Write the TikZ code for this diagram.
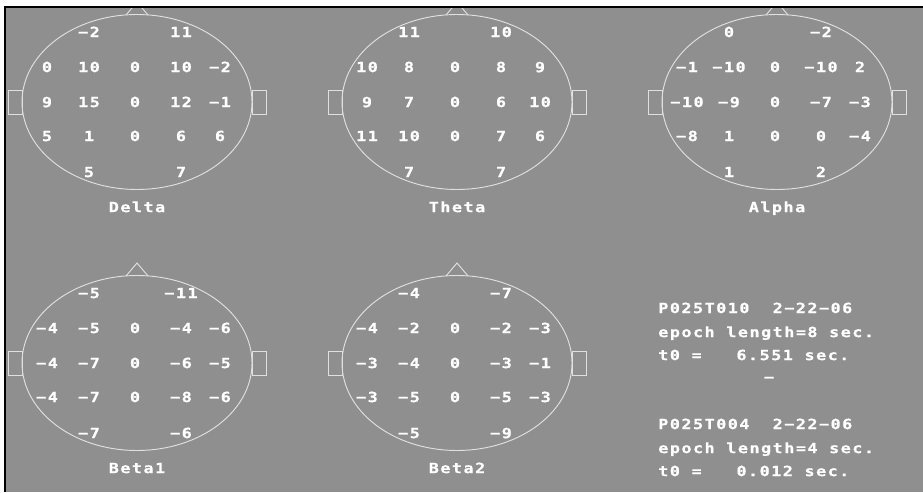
\documentclass[tikz,border=0pt]{standalone}
\usepackage{fontspec}
\newfontfamily\pixfont[FakeStretch=1.2,LetterSpace=10.5,FakeBold=0.6]{DejaVu Sans Mono Bold}
\definecolor{eegbg}{RGB}{143,143,143}
\definecolor{eegline}{RGB}{224,224,224}
\newcommand\cell{\hspace*{8.7pt}}% one blank character cell
\tikzset{
  val/.style={text=white,font=\pixfont\fontsize{10.5}{12}\selectfont,
    inner sep=0pt,text height=7.6pt,text depth=0pt},
  info/.style={val,anchor=west},
  headline/.style={draw=eegline,line width=0.7pt},
}
% name, centre x, centre y, band, the 19 values
\newcommand\headmap[5]{%
  \begin{scope}[shift={(#2,#3)}]
    \draw[headline] (0,0) ellipse (115 and 87.5);
    \draw[headline] (-11,-87) -- (0,-100) -- (11,-87);
    \draw[headline] (-115,-12) rectangle (-129,12);
    \draw[headline] (115,-12) rectangle (129,12);
    \foreach \v [count=\i] in {#5}{
      \pgfmathsetmacro\dx{{-48,44,-90,-48,-2,44,83,-90,-48,-2,44,83,-90,-48,-2,44,83,-48,44}[\i-1]}
      \pgfmathsetmacro\dy{{-70,-70,-35,-35,-35,-35,-35,0,0,0,0,0,34,34,34,34,34,70,70}[\i-1]}
      \node[val] (#1-\i) at (\dx,\dy) {\v};
    }
    \node[val] (#1-name) at (0,105) {#4};
  \end{scope}}

\begin{document}
\begin{tikzpicture}[x=0.75pt,y=-0.75pt]
  \useasboundingbox (0,0) rectangle (923,492);
  \fill[eegbg] (5,7) rectangle (923,492);

  \headmap{delta}{137}{102}{Delta}{−2,11,0,10,0,10,−2,9,15,0,12,−1,5,1,0,6,6,5,7}
  \headmap{theta}{457}{102}{Theta}{11,10,10,8,0,8,9,9,7,0,6,10,11,10,0,7,6,7,7}
  \headmap{alpha}{777}{102}{Alpha}{0,−2,−1,−10,0,−10,2,−10,−9,0,−7,−3,−8,1,0,0,−4,1,2}
  \headmap{betaone}{137}{363}{Beta1}{−5,−11,−4,−5,0,−4,−6,−4,−7,0,−6,−5,−4,−7,0,−8,−6,−7,−6}
  \headmap{betatwo}{457}{363}{Beta2}{−4,−7,−4,−2,0,−2,−3,−3,−4,0,−3,−1,−3,−5,0,−5,−3,−5,−9}

  % epoch info
  \node[info] (runa) at (658,308) {P025T010\cell\cell 2−22−06};
  \node[info] (lena) at (658,332) {epoch\cell length=8\cell sec.};
  \node[info] (ta) at (658,355) {t0\cell=\cell\cell\cell 6.551\cell sec.};
  \node[val] (mark) at (769,377) {−};
  \node[info] (runb) at (658,424) {P025T004\cell\cell 2−22−06};
  \node[info] (lenb) at (658,448) {epoch\cell length=4\cell sec.};
  \node[info] (tb) at (658,471) {t0\cell=\cell\cell\cell 0.012\cell sec.};

  % white margin and frame
  \fill[white] (0,0) rectangle (923,6) (0,0) rectangle (4,492);
  \draw[line width=1.5pt] (5,492) -- (5,7) -- (923,7);
\end{tikzpicture}
\end{document}
